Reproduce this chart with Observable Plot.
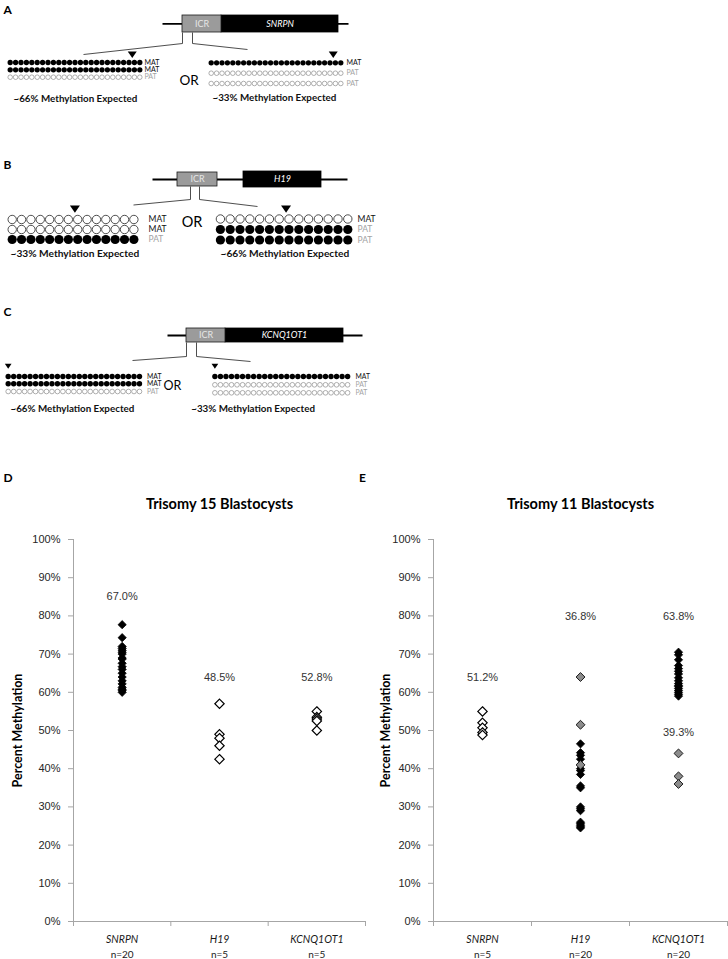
<!DOCTYPE html>
<html>
<head>
<meta charset="utf-8">
<script src="https://cdn.jsdelivr.net/npm/d3@7"></script>
<script src="https://cdn.jsdelivr.net/npm/@observablehq/plot@0.6"></script>
<style>
html, body { margin: 0; padding: 0; background: #fff; }
#root { position: relative; width: 728px; height: 959px; overflow: hidden; background: #fff; }
#root > div { position: absolute; }
#root svg { max-width: none; }
</style>
</head>
<body>
<div id="root">
  <div id="diag" style="left:0;top:0"></div>
  <div id="chartD" style="left:0;top:440px"></div>
  <div id="chartE" style="left:366px;top:440px"></div>
</div>
<script>
// ---------------- Data: schematics (panels A–C) ----------------
const panelLetters = ["A", "B", "C"];
const genes = ["SNRPN", "H19", "KCNQ1OT1"];
const icrLabel = "ICR";
const orLabel = "OR";
const leftMethylation = [[1, 1, 0], [0, 0, 1], [1, 1, 0]];
const rightMethylation = [[1, 0, 0], [0, 1, 1], [1, 0, 0]];
const leftOrigin = [["MAT", "MAT", "PAT"], ["MAT", "MAT", "PAT"], ["MAT", "MAT", "PAT"]];
const rightOrigin = [["MAT", "PAT", "PAT"], ["MAT", "PAT", "PAT"], ["MAT", "PAT", "PAT"]];
const leftExpected = ["~66% Methylation Expected", "~33% Methylation Expected", "~66% Methylation Expected"];
const rightExpected = ["~33% Methylation Expected", "~66% Methylation Expected", "~33% Methylation Expected"];
const cpgCount = [25, 14, 25];
const assaySite = [22.6, 6.7, 0];

// ---------------- Data: charts (panels D, E) ----------------
const chartLetters = ["D", "E"];
const loci = ["SNRPN", "H19", "KCNQ1OT1"];
const t15Counts = ["n=20", "n=5", "n=5"];
const t11Counts = ["n=5", "n=20", "n=20"];
const yTickValues = [0, 0.1, 0.2, 0.3, 0.4, 0.5, 0.6, 0.7, 0.8, 0.9, 1];
const t15Title = "Trisomy 15 Blastocysts";
const t11Title = "Trisomy 11 Blastocysts";
const yTitle = "Percent Methylation";

const t15_SNRPN = [77.7, 74.3, 72.0, 71.5, 71.0, 70.5, 70.0, 69.0, 68.7, 67.6, 66.7, 66.0, 65.0, 64.0, 63.0, 62.2, 61.3, 60.8, 60.5, 60.0];
const t15_H19 = [57.0, 49.0, 48.0, 46.0, 42.5];
const t15_KCNQ1OT1 = [55.0, 53.5, 53.0, 52.5, 50.0];
const t15Means = ["67.0%", "48.5%", "52.8%"];

const t11_SNRPN = [55.0, 52.0, 50.7, 49.5, 48.8];
const t11_H19_black = [46.5, 44.2, 43.5, 42.5, 40.0, 39.5, 38.5, 35.5, 35.0, 30.0, 29.5, 29.0, 26.0, 25.6, 25.2, 24.8, 24.5];
const t11_H19_grey = [64.0, 51.5, 41.0];
const t11_KCNQ1OT1_black = [70.5, 69.8, 68.5, 67.0, 66.2, 65.5, 64.8, 63.8, 63.0, 62.3, 61.8, 61.5, 61.0, 60.5, 60.0, 59.5, 59.0];
const t11_KCNQ1OT1_grey = [44.0, 38.0, 36.0];
const t11Means = ["51.2%", "36.8%", "63.8%"];
const t11KcnqGreyMean = "39.3%";

// ---------------- Layout of the schematics (pixels) ----------------
const G = [
  { letterY: 9.7, lineY: 23.3, lineX: [162, 348], icr: [182, 221], icrY: [15, 32], gene: [221, 338], geneY: [15, 32],
    split: [182, 192], splitY: [32, 43], fanL: [83, 54], fanR: [247, 49],
    dotR: 2.65, big: false, arrowY: 54.2, arrowR: 4.5, orXY: [188.5, 80], orSize: 13.5, originSize: 7, expSize: 9.8, boxText: 9,
    groups: [
      { x0: 9.7, dx: 5.4, rows: [62, 69.3, 76.7], labelX: 144, textX: 13, textY: 98.3 },
      { x0: 210.7, dx: 5.4, rows: [62.3, 72.7, 83], labelX: 346, textX: 212, textY: 97.3 }
    ] },
  { letterY: 165, lineY: 179, lineX: [152, 347], icr: [177, 217], icrY: [172, 186], gene: [243, 321], geneY: [171, 187],
    split: [190, 199], splitY: [186, 199], fanL: [133, 204.5], fanR: [257, 206],
    dotR: 4.6, big: true, arrowY: 208.5, arrowR: 5, orXY: [191.5, 221.5], orSize: 14.5, originSize: 8.5, expSize: 10.2, boxText: 9,
    groups: [
      { x0: 11.7, dx: 9.36, rows: [219, 229, 239], labelX: 148, textX: 10, textY: 253 },
      { x0: 219.9, dx: 9.8, rows: [218.5, 229, 239.5], labelX: 357, textX: 220, textY: 253 }
    ] },
  { letterY: 312, lineY: 335, lineX: [167, 362], icr: [186, 225], icrY: [328, 342], gene: [225, 343], geneY: [328, 342],
    split: [186, 196], splitY: [342, 356], fanL: [132, 360], fanR: [250, 361],
    dotR: 2.7, big: false, arrowY: 365.7, arrowR: 3.35, orXY: [172, 385], orSize: 12.5, originSize: 6.8, expSize: 9.8, boxText: 9,
    groups: [
      { x0: 7.7, dx: 5.47, rows: [376, 383.3, 391], labelX: 146.5, textX: 10, textY: 408.3 },
      { x0: 214.4, dx: 5.53, rows: [376, 384.3, 392.3], labelX: 355, textX: 190.7, textY: 408.3 }
    ] }
];

const downTriangle = {
  draw(ctx, size) {
    const r = Math.sqrt(size / Math.PI);
    ctx.moveTo(-r, -0.7 * r);
    ctx.lineTo(r, -0.7 * r);
    ctx.lineTo(0, 0.75 * r);
    ctx.closePath();
  }
};

const sans = "Lato, 'Liberation Sans', sans-serif";
const diagMarks = [];
const L = {x1: "x1", y1: "y1", x2: "x2", y2: "y2"};

G.forEach((g, p) => {
  // panel letter
  diagMarks.push(Plot.text([{x: 3, y: g.letterY, t: panelLetters[p]}], {x: "x", y: "y", text: "t", textAnchor: "start", lineAnchor: "middle", fontFamily: sans, fontWeight: "bold", fontSize: 12, fill: "#000"}));
  // backbone
  diagMarks.push(Plot.link([{x1: g.lineX[0], y1: g.lineY, x2: g.lineX[1], y2: g.lineY}], {...L, stroke: "#000", strokeWidth: 1.8}));
  // zoom-in connector
  diagMarks.push(Plot.link([
    {x1: g.split[0], y1: g.splitY[0], x2: g.split[0], y2: g.splitY[1]},
    {x1: g.split[1], y1: g.splitY[0], x2: g.split[1], y2: g.splitY[1]},
    {x1: g.split[0], y1: g.splitY[1], x2: g.fanL[0], y2: g.fanL[1]},
    {x1: g.split[1], y1: g.splitY[1], x2: g.fanR[0], y2: g.fanR[1]}
  ], {...L, stroke: "#3a3a3a", strokeWidth: 0.9}));
  // gene box and ICR box
  diagMarks.push(Plot.rect([{x1: g.gene[0], x2: g.gene[1], y1: g.geneY[0], y2: g.geneY[1]}], {...L, fill: "#000", stroke: "#000", strokeWidth: 0.8}));
  diagMarks.push(Plot.rect([{x1: g.icr[0], x2: g.icr[1], y1: g.icrY[0], y2: g.icrY[1]}], {...L, fill: "#9b9b9b", stroke: "#1a1a1a", strokeWidth: 0.8}));
  diagMarks.push(Plot.text([{x: (g.icr[0] + g.icr[1]) / 2, y: (g.icrY[0] + g.icrY[1]) / 2, t: icrLabel}], {x: "x", y: "y", text: "t", lineAnchor: "middle", fontFamily: sans, fontSize: g.boxText, fill: "#e6e6e6"}));
  diagMarks.push(Plot.text([{x: (g.gene[0] + g.gene[1]) / 2, y: (g.geneY[0] + g.geneY[1]) / 2, t: genes[p]}], {x: "x", y: "y", text: "t", lineAnchor: "middle", fontFamily: sans, fontStyle: "italic", fontSize: g.boxText, fill: "#fff"}));
  // OR
  diagMarks.push(Plot.text([{x: g.orXY[0], y: g.orXY[1], t: orLabel}], {x: "x", y: "y", text: "t", lineAnchor: "middle", fontFamily: sans, fontSize: g.orSize, fill: "#000"}));

  g.groups.forEach((grp, side) => {
    const meth = side ? rightMethylation[p] : leftMethylation[p];
    const origin = side ? rightOrigin[p] : leftOrigin[p];
    const cells = [];
    meth.forEach((m, r) => {
      for (let i = 0; i < cpgCount[p]; i++) cells.push({x: grp.x0 + i * grp.dx, y: grp.rows[r], m});
    });
    diagMarks.push(Plot.dot(cells.filter(d => d.m), {x: "x", y: "y", r: g.dotR, fill: "#000"}));
    diagMarks.push(Plot.dot(cells.filter(d => !d.m), {x: "x", y: "y", r: g.big ? g.dotR - 0.4 : g.dotR - 0.35, fill: "#fff",
      stroke: g.big ? "#222" : "#8c8c8c", strokeWidth: g.big ? 0.8 : 0.7}));
    diagMarks.push(Plot.dot([{x: grp.x0 + assaySite[p] * grp.dx, y: g.arrowY}], {x: "x", y: "y", r: g.arrowR, symbol: downTriangle, fill: "#000"}));
    const labs = origin.map((t, r) => ({x: grp.labelX, y: grp.rows[r], t}));
    diagMarks.push(Plot.text(labs.filter(d => d.t === "MAT"), {x: "x", y: "y", text: "t", textAnchor: "start", lineAnchor: "middle", fontFamily: sans, fontSize: g.originSize, fill: "#111"}));
    diagMarks.push(Plot.text(labs.filter(d => d.t === "PAT"), {x: "x", y: "y", text: "t", textAnchor: "start", lineAnchor: "middle", fontFamily: sans, fontSize: g.originSize, fill: "#a3a3a3"}));
    diagMarks.push(Plot.text([{x: grp.textX, y: grp.textY, t: (side ? rightExpected : leftExpected)[p]}], {x: "x", y: "y", text: "t", textAnchor: "start", lineAnchor: "middle", fontFamily: sans, fontWeight: "bold", fontSize: g.expSize, fill: "#111"}));
  });
});

document.getElementById("diag").appendChild(Plot.plot({
  width: 728, height: 430, margin: 0,
  style: {background: "transparent"},
  x: {type: "identity", axis: null},
  y: {type: "identity", axis: null},
  marks: diagMarks
}));

// ---------------- Charts ----------------
const axisGray = "#a6a6a6";
const pts = (vals, i) => vals.map(v => ({x: i + 0.5, y: v / 100}));
const blackDia = {x: "x", y: "y", symbol: "diamond2", r: 3.7, fill: "#000", stroke: "#000", strokeWidth: 0.8};
const openDia = {x: "x", y: "y", symbol: "diamond2", r: 4.2, fill: "#fff", stroke: "#000", strokeWidth: 1.2};
const greyDia = {x: "x", y: "y", symbol: "diamond2", r: 4.0, fill: "#8c8c8c", stroke: "#1a1a1a", strokeWidth: 1};
const meanText = {fontFamily: "'Liberation Sans', Arial, sans-serif", fontSize: 11, fill: "#333", lineAnchor: "middle"};

function methylationChart({width, marginLeft, title, counts, titleDx, layers}) {
  return Plot.plot({
    width, height: 519, marginLeft, marginRight: 1, marginTop: 99, marginBottom: 38,
    style: {fontFamily: "'Liberation Sans', Arial, sans-serif", background: "transparent", overflow: "visible"},
    x: {domain: [0, 3]},
    y: {domain: [0, 1]},
    marks: [
      Plot.axisY({ticks: yTickValues, tickFormat: d => Math.round(d * 100) + "%", tickSize: 5, tickPadding: 8,
        stroke: axisGray, fill: "#262626", fontSize: 11, label: null}),
      Plot.axisX({ticks: [0, 1, 2, 3], tickSize: 5, tickFormat: () => "", stroke: axisGray, label: null}),
      Plot.ruleX([0], {stroke: axisGray}),
      Plot.ruleY([0], {stroke: axisGray}),
      Plot.text(loci, {x: (d, i) => i + 0.5, frameAnchor: "bottom", lineAnchor: "middle", dy: 18.5,
        fontFamily: sans, fontStyle: "italic", fontSize: 10.5, fill: "#1a1a1a"}),
      Plot.text(counts, {x: (d, i) => i + 0.5, frameAnchor: "bottom", lineAnchor: "middle", dy: 33,
        fontFamily: sans, fontSize: 10, fill: "#1a1a1a"}),
      Plot.text([title], {frameAnchor: "top", lineAnchor: "middle", dy: -35,
        fontFamily: sans, fontWeight: "bold", fontSize: 14.5, fill: "#000"}),
      Plot.text([yTitle], {frameAnchor: "left", textAnchor: "middle", lineAnchor: "middle", rotate: -90, dx: titleDx,
        fontFamily: sans, fontWeight: "bold", fontSize: 12.5, fill: "#000"}),
      ...layers
    ]
  });
}

document.getElementById("chartD").appendChild(methylationChart({
  width: 366, marginLeft: 73, title: t15Title, counts: t15Counts, titleDx: -56,
  layers: [
    Plot.text([chartLetters[0]], {frameAnchor: "top-left", textAnchor: "start", lineAnchor: "middle", dx: -70, dy: -61.3,
      fontFamily: sans, fontWeight: "bold", fontSize: 12, fill: "#000"}),
    Plot.text([chartLetters[1]], {frameAnchor: "top-left", textAnchor: "start", lineAnchor: "middle", dx: 285.5, dy: -61.3,
      fontFamily: sans, fontWeight: "bold", fontSize: 12, fill: "#000"}),
    Plot.dot(pts(t15_SNRPN, 0), blackDia),
    Plot.dot(pts(t15_H19, 1), openDia),
    Plot.dot(pts(t15_KCNQ1OT1, 2), openDia),
    Plot.text(t15Means, {x: (d, i) => i + 0.5, y: (d, i) => [0.851, 0.639, 0.639][i], ...meanText})
  ]
}));

document.getElementById("chartE").appendChild(methylationChart({
  width: 362, marginLeft: 67, title: t11Title, counts: t11Counts, titleDx: -48,
  layers: [
    Plot.dot(pts(t11_SNRPN, 0), openDia),
    Plot.dot(pts(t11_H19_black, 1), blackDia),
    Plot.dot(pts(t11_H19_grey, 1), greyDia),
    Plot.dot(pts(t11_KCNQ1OT1_black, 2), blackDia),
    Plot.dot(pts(t11_KCNQ1OT1_grey, 2), greyDia),
    Plot.text(t11Means, {x: (d, i) => i + 0.5, y: (d, i) => [0.639, 0.798, 0.798][i], ...meanText}),
    Plot.text([t11KcnqGreyMean], {x: 2.5, y: 0.495, ...meanText})
  ]
}));
</script>
</body>
</html>
